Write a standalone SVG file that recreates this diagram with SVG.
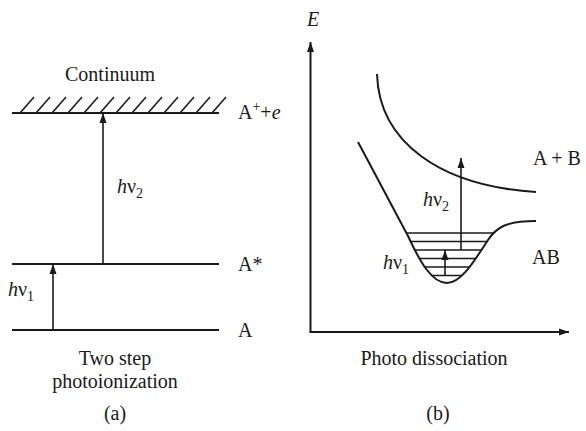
<svg xmlns="http://www.w3.org/2000/svg" width="586" height="431" viewBox="0 0 586 431">
<style>
text{font-family:"Liberation Serif","Times New Roman",serif;font-size:20px;fill:#1a1a1a}
.it{font-style:italic}
.sub{font-size:14px}
.ln{stroke:#1a1a1a;stroke-width:2;fill:none}
.th{stroke:#1a1a1a;stroke-width:1.6;fill:none}
</style>
<defs>
<marker id="ah" viewBox="0 0 10 10" refX="10" refY="5" markerWidth="10" markerHeight="10" markerUnits="userSpaceOnUse" orient="auto">
<path d="M0,1.5 L10,5 L0,8.5 Z" fill="#1a1a1a"/>
</marker>
<clipPath id="well">
<path d="M358,142 L408,236 C420,262 432,283 447,283 C462,283 476,258 488,240 C496,228 505,221 536,221 L536,142 Z"/>
</clipPath>
</defs>
<rect width="586" height="431" fill="#fff"/>

<g id="panel-a">
<g id="continuum">
<text x="110" y="81" text-anchor="middle">Continuum</text>
<line class="ln" x1="12" y1="113" x2="219" y2="113"/>
<path class="th" d="M20,113 l14,-16 M36,113 l14,-16 M52,113 l14,-16 M68,113 l14,-16 M84,113 l14,-16 M100,113 l14,-16 M116,113 l14,-16 M132,113 l14,-16 M148,113 l14,-16 M164,113 l14,-16 M180,113 l14,-16 M196,113 l14,-16 M212,113 l14,-16"/>
<text x="238" y="119">A<tspan class="sub" dy="-8">+</tspan><tspan dy="8">+</tspan><tspan class="it">e</tspan></text>
</g>
<g id="level-Astar">
<line class="ln" x1="12" y1="264" x2="219" y2="264"/>
<text x="238" y="271">A*</text>
</g>
<g id="level-A">
<line class="ln" x1="12" y1="330" x2="219" y2="330"/>
<text x="238" y="337">A</text>
</g>
<g id="label-a">
<text x="115" y="365" text-anchor="middle">Two step</text>
<text x="115" y="388" text-anchor="middle">photoionization</text>
<text x="115" y="420" text-anchor="middle">(a)</text>
</g>
</g>

<g id="panel-b">
<g id="axes">
<text x="307" y="26" class="it">E</text>
</g>
<g id="upper-curve">
<path class="ln" d="M377,74 C379,142 440,186 536,192"/>
<text x="533" y="165">A + B</text>
</g>
<g id="lower-curve">
<path class="ln" d="M358,142 L408,236 C420,262 432,283 447,283 C462,283 476,258 488,240 C496,228 505,221 536,221"/>
<g clip-path="url(#well)" class="th">
<line x1="380" y1="233" x2="520" y2="233"/>
<line x1="380" y1="241.5" x2="520" y2="241.5"/>
<line x1="380" y1="250" x2="520" y2="250"/>
<line x1="380" y1="258.5" x2="520" y2="258.5"/>
<line x1="380" y1="267" x2="520" y2="267"/>
<line x1="380" y1="275.5" x2="520" y2="275.5"/>
</g>
<text x="532" y="264">AB</text>
</g>
<text x="434" y="365" text-anchor="middle">Photo dissociation</text>
<text x="438" y="420" text-anchor="middle">(b)</text>
</g>

<g id="connectors">
<line class="ln" x1="310.5" y1="332" x2="310.5" y2="42" marker-end="url(#ah)"/>
<line class="ln" x1="309.5" y1="332" x2="569" y2="332" marker-end="url(#ah)"/>
<line class="th" x1="103" y1="264" x2="103" y2="113" marker-end="url(#ah)"/>
<line class="th" x1="53" y1="330" x2="53" y2="264" marker-end="url(#ah)"/>
<line class="th" x1="461" y1="250" x2="461" y2="158" marker-end="url(#ah)"/>
<line class="th" x1="445" y1="275.5" x2="445" y2="250" marker-end="url(#ah)"/>
<text x="117" y="193"><tspan class="it">h</tspan>ν<tspan class="sub" dy="5">2</tspan></text>
<text x="8" y="296"><tspan class="it">h</tspan>ν<tspan class="sub" dy="5">1</tspan></text>
<text x="423" y="206"><tspan class="it">h</tspan>ν<tspan class="sub" dy="5">2</tspan></text>
<text x="383" y="269"><tspan class="it">h</tspan>ν<tspan class="sub" dy="5">1</tspan></text>
</g>
</svg>
